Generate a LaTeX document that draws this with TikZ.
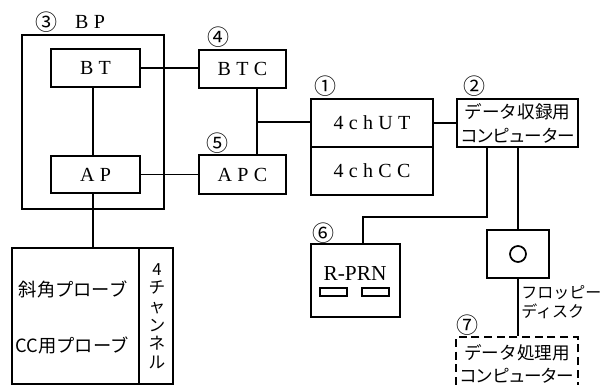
\documentclass[tikz,border=0pt]{standalone}
\usepackage{fontspec}
\setmainfont{Liberation Serif}
\newfontfamily\jp{Noto Sans CJK JP}
\newfontfamily\jpn[LetterSpace=-8]{Noto Sans CJK JP}
\usetikzlibrary{fit}
\tikzset{
  box/.style={draw, line width=1.3pt, inner sep=0pt, rectangle},
  dbox/.style={draw, line width=1.3pt, inner sep=0pt, rectangle, dash pattern=on 6pt off 3.5pt},
  wire/.style={line width=1.3pt},
  wt/.style={inner sep=0pt, font={\fontsize{15pt}{17pt}\selectfont}},
  num/.style={inner sep=0pt, font={\fontsize{16.5pt}{18pt}\selectfont\jp}},
  jtxt/.style={inner sep=0pt, align=center, font={\fontsize{13.2pt}{18pt}\selectfont\jp}},
}
\newcommand\gp{\kern4pt}
\begin{document}
\begin{tikzpicture}[x=0.75pt,y=-0.75pt]
\useasboundingbox (0,0) rectangle (601,385);
\clip (0,0) rectangle (601,385);
% BP group
\node[box, fit={(22,35) (164,209)}] (bp) {};
\node[box, fit={(51,49) (140,87)}] (bt) {};
\node[wt] (btt) at (bt.center) {B\gp T};
\node[box, fit={(51,156) (140,193)}] (ap) {};
\node[wt] (apt) at (ap.center) {A\gp P};
\node[num] (n3) at (47,22) {③};
\node[wt] (bpl) at (90,22) {B\gp P};
% controllers
\node[box, fit={(199,50) (286,88)}] (btc) {};
\node[wt] (btct) at (btc.center) {B\gp T\gp C};
\node[box, fit={(199,155) (286,194)}] (apc) {};
\node[wt] (apct) at (apc.center) {A\gp P\gp C};
\node[num] (n4) at (218,37) {④};
\node[num] (n5) at (217,143) {⑤};
% 4ch unit
\node[box, fit={(311,99) (433,147)}] (ut) {};
\node[wt] (utt) at (ut.center) {4\gp c\gp h\gp U\gp T};
\node[box, fit={(311,147) (433,195)}] (cc) {};
\node[wt] (cct) at (cc.center) {4\gp c\gp h\gp C\gp C};
\node[num] (n1) at (325,86) {①};
% computer
\node[box, fit={(457,99) (578,147)}] (comp) {};
\node[jtxt] (compt) at (comp.center) {データ収録用\\{\jpn コンピューター}};
\node[num] (n2) at (474,86) {②};
% printer
\node[box, fit={(311,244) (400,317)}] (prn) {};
\node[inner sep=0pt, font={\fontsize{16pt}{18pt}\selectfont}] (prnt) at (355,274) {R-PRN};
\node[box, fit={(320,288) (347,296)}] (s1) {};
\node[box, fit={(362,288) (389,296)}] (s2) {};
\node[num] (n6) at (323,233) {⑥};
% floppy
\node[box, fit={(487,230) (549,278)}] (fd) {};
\node[draw, circle, line width=1.3pt, minimum size=12pt, inner sep=0pt] (fdc) at (fd.center) {};
\node[inner sep=0pt, anchor=west, align=left, font={\fontsize{12pt}{14.3pt}\selectfont\jp}] (fdl) at (521,302.5) {フロッピー\\ディスク};
% data processing computer
\node[dbox, fit={(456,337) (578,395)}] (dp) {};
\node[jtxt, font={\fontsize{13.2pt}{17.3pt}\selectfont\jp}] (dpt) at (517,363.5) {データ処理用\\{\jpn コンピューター}};
\node[num] (n7) at (467,325) {⑦};
% probes
\node[box, fit={(12,248) (139,384)}] (pr) {};
\node[box, fit={(139,248) (173,384)}] (ch) {};
\node[jtxt, font={\fontsize{13.7pt}{16pt}\selectfont\jp}] (t1) at (73,289) {斜角プローブ};
\node[jtxt, font={\fontsize{13.7pt}{16pt}\selectfont\jp}] (t2) at (72,345) {CC用プローブ};
\node[inner sep=0pt, align=center, font={\fontsize{12.5pt}{13.9pt}\selectfont\jp}] (cht) at (157,316) {4\\チ\\ャ\\ン\\ネ\\ル};
% connectors
\coordinate (vx) at (93,0);
\coordinate (j) at (257,122);
\coordinate (k1) at (487,217);
\coordinate (k2) at (363,217);
\draw[wire] (bt.east) -- (btc.west |- bt.east);
\draw[wire] (ap.east) -- (apc.west |- ap.east);
\draw[wire] (bt.south -| vx) -- (ap.north -| vx);
\draw[wire] (ap.south -| vx) -- (pr.north -| vx);
\draw[wire] (btc.south -| j) -- (apc.north -| j);
\draw[wire] (j) -- (j -| ut.west);
\draw[wire] (ut.east) -- (comp.west |- ut.east);
\draw[wire] (comp.south -| k1) -- (k1) -- (k2) -- (prn.north -| k2);
\draw[wire] (comp.south -| fd.north) -- (fd.north);
\draw[wire] (fd.south) -- (dp.north -| fd.south);
\end{tikzpicture}
\end{document}
